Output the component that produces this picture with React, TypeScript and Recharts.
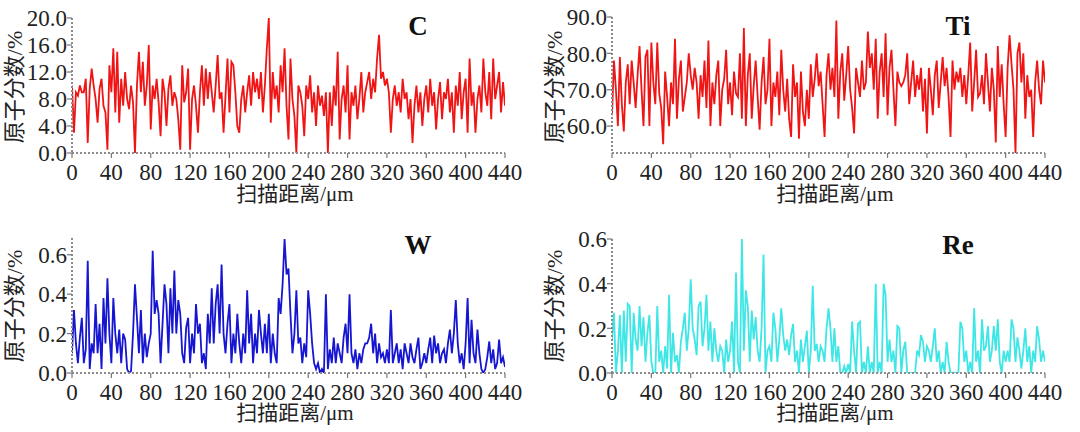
import { Line, LineChart, XAxis, YAxis } from 'recharts';

// scan step along the line, μm
const STEP_UM = 2;
const X_TICKS = [0, 40, 80, 120, 160, 200, 240, 280, 320, 360, 400, 440];

const CARBON = [
  10, 3, 9, 8.5, 10, 9, 9, 11, 1.5, 9.5,
  12.5, 10, 8, 4.5, 9.5, 11, 7, 6, 0.5, 13,
  9, 15.5, 6, 15, 4.5, 11, 7, 12, 8, 6.5,
  10, 7.5, 0, 10, 15, 9, 13.5, 7, 10, 16,
  3.5, 10, 8, 11, 7.5, 2.5, 11, 9, 4, 9.5,
  11.5, 7, 9, 8, 5, 0.5, 13, 7.5, 9, 12.5,
  0.5, 8, 10, 7, 3, 9, 13, 7, 12.5, 8,
  12, 9, 6, 10, 14.5, 8, 9, 3, 8.5, 14,
  6, 13.5, 13, 9, 4, 3, 8, 10, 6, 9,
  11.5, 7, 12, 9, 11, 8, 12, 6, 10, 15.5,
  20, 4.5, 12, 8, 10, 6, 13, 9, 15.5, 7,
  2, 14, 8, 5.5, 0, 10, 9, 7, 2.5, 10,
  8, 11.5, 6, 9, 4, 10, 7, 8.5, 5.5, 9,
  0, 9, 4, 10, 7, 15, 2, 8, 10, 6,
  13, 2, 9, 7, 10, 5, 8, 12, 6, 9,
  10.5, 12, 8, 11, 9, 14, 17.5, 11, 12, 10,
  11, 9, 3, 8, 10, 7, 9, 6, 11, 8,
  9, 5, 8, 1.5, 7, 10, 6, 9, 4, 8,
  10, 6, 11, 7, 9, 3.5, 8, 10.5, 5, 9,
  8, 11, 6, 9, 3, 10, 7, 12, 5, 9,
  11, 3, 14, 7, 9, 3, 8, 10, 6, 14,
  9, 7, 12, 5, 14, 8, 10, 12, 6, 10.5,
  7,
];

const TITANIUM = [
  63, 78, 70, 60, 79, 66, 58.5, 72, 77, 66,
  78, 72, 65, 74, 82, 70, 60, 79, 81, 60,
  83, 72, 66, 83, 69, 65, 55, 75, 68, 60,
  72, 66, 84, 62, 73, 78, 64, 68, 72, 80,
  74, 70, 76, 72, 62, 74, 68, 78, 65, 83.5,
  60, 72, 66, 74, 78, 60, 70, 73, 81, 66,
  72, 63, 75, 69, 68, 80, 62, 87, 60, 74,
  80, 62, 71, 78, 68, 59, 72, 79, 66, 70,
  84, 60, 72, 68, 75, 63, 81, 70, 64, 73,
  62, 57, 77, 68, 72, 56.5, 75, 64, 60, 70,
  62, 77, 68, 73, 80, 71, 75, 66, 57, 74,
  80, 70, 76, 68, 89, 62, 75, 80, 67, 74,
  82, 70, 65, 58, 76, 72, 68, 78, 70, 72,
  86, 76, 80, 70, 84, 62, 75, 80, 68, 85.5,
  63, 76, 81, 70, 60, 75, 72, 71, 72, 74,
  80, 66, 72, 78, 68, 74, 70, 76, 64, 73,
  58, 76, 70, 63, 74, 78, 65, 72, 79, 71,
  76, 68, 57, 78, 70, 75, 72, 76, 68, 74,
  66, 74, 83, 64, 72, 81, 68, 69, 74, 66,
  80, 72, 64, 76, 70, 55.5, 82, 68, 77, 66,
  57, 76, 85, 77, 70, 52.5, 80, 83, 72, 80,
  62, 74, 68, 70, 57, 72, 78, 70, 66, 78,
  72,
];

const TUNGSTEN = [
  0.1, 0.32, 0.15, 0.05, 0.18, 0.28, 0.05, 0.12, 0.57, 0.02,
  0.15, 0.1, 0.35, 0.1, 0.25, 0.02, 0.38, 0.15, 0.48, 0.2,
  0.05, 0.38, 0.2, 0.1, 0.22, 0.05, 0.2, 0.17, 0.02, 0.0,
  0.01, 0.2, 0.45, 0.28, 0.1, 0.32, 0.05, 0.2, 0.08, 0.15,
  0.2, 0.62, 0.3, 0.37, 0.3, 0.05, 0.25, 0.45, 0.35, 0.1,
  0.43, 0.2, 0.52, 0.2, 0.37, 0.3, 0.1, 0.05, 0.23, 0.28,
  0.05, 0.2, 0.1, 0.35, 0.2, 0.25, 0.05, 0.1, 0.02, 0.3,
  0.15, 0.43, 0.15, 0.35, 0.45, 0.2, 0.55, 0.2, 0.1, 0.25,
  0.35, 0.05, 0.2, 0.1, 0.3, 0.15, 0.05, 0.2, 0.1, 0.42,
  0.15, 0.3, 0.05, 0.2, 0.1, 0.32, 0.2, 0.1, 0.25, 0.1,
  0.3, 0.05, 0.2, 0.1, 0.05, 0.38, 0.3, 0.45, 0.68, 0.5,
  0.53, 0.3, 0.1, 0.2, 0.42, 0.15, 0.18, 0.05, 0.15, 0.08,
  0.42, 0.3, 0.15, 0.05, 0.02, 0.05, 0.0, 0.02, 0.0, 0.4,
  0.02, 0.12, 0.05, 0.18, 0.05, 0.15, 0.1, 0.05, 0.18, 0.25,
  0.1, 0.4, 0.1, 0.05, 0.12, 0.02, 0.1, 0.05, 0.12, 0.15,
  0.15, 0.18, 0.25, 0.1, 0.2, 0.05, 0.15, 0.08, 0.1, 0.05,
  0.12, 0.05, 0.32, 0.05, 0.1, 0.15, 0.05, 0.12, 0.02, 0.15,
  0.1, 0.05, 0.15, 0.08, 0.05, 0.12, 0.18, 0.02, 0.05, 0.1,
  0.05, 0.12, 0.18, 0.05, 0.19, 0.1, 0.15, 0.05, 0.1, 0.12,
  0.05, 0.15, 0.22, 0.1, 0.2, 0.37, 0.15, 0.05, 0.1, 0.02,
  0.15, 0.38, 0.05, 0.27, 0.1, 0.05, 0.22, 0.1, 0.02, 0.0,
  0.02, 0.08, 0.16, 0.05, 0.12, 0.02, 0.05, 0.17, 0.05, 0.08,
  0.03,
];

const RHENIUM = [
  0.15, 0.27, 0.0, 0.1, 0.26, 0.0, 0.28, 0.05, 0.31, 0.3,
  0.0, 0.27, 0.15, 0.1, 0.3, 0.12, 0.25, 0.05, 0.18, 0.26,
  0.05, 0.0, 0.0, 0.3, 0.05, 0.1, 0.0, 0.12, 0.02, 0.35,
  0.0, 0.18, 0.05, 0.08, 0.0, 0.14, 0.2, 0.27, 0.1, 0.2,
  0.42, 0.2, 0.15, 0.08, 0.3, 0.32, 0.12, 0.2, 0.35, 0.1,
  0.23, 0.05, 0.2, 0.1, 0.05, 0.12, 0.1, 0.0, 0.15, 0.05,
  0.1, 0.23, 0.0, 0.45, 0.05, 0.0, 0.6, 0.1, 0.37, 0.3,
  0.05, 0.28, 0.15, 0.25, 0.1, 0.05, 0.2, 0.53, 0.0, 0.1,
  0.12, 0.05, 0.27, 0.2, 0.05, 0.15, 0.29, 0.17, 0.1, 0.15,
  0.08, 0.17, 0.22, 0.05, 0.1, 0.0, 0.15, 0.05, 0.12, 0.19,
  0.0, 0.1, 0.39, 0.1, 0.13, 0.05, 0.12, 0.1, 0.05, 0.2,
  0.29, 0.2, 0.05, 0.2, 0.05, 0.12, 0.0, 0.0, 0.03, 0.0,
  0.04, 0.0, 0.23, 0.1, 0.0, 0.22, 0.23, 0.0, 0.05, 0.0,
  0.12, 0.0, 0.05, 0.0, 0.4, 0.0, 0.05, 0.0, 0.4, 0.35,
  0.05, 0.15, 0.05, 0.1, 0.0, 0.21, 0.2, 0.0, 0.1, 0.14,
  0.0, 0.0, 0.0, 0.0, 0.0, 0.1, 0.08, 0.17, 0.14, 0.05,
  0.12, 0.1, 0.05, 0.12, 0.2, 0.05, 0.1, 0.0, 0.05, 0.0,
  0.14, 0.05, 0.0, 0.0, 0.0, 0.0, 0.0, 0.23, 0.2, 0.05,
  0.1, 0.0, 0.05, 0.0, 0.29, 0.05, 0.1, 0.0, 0.24, 0.1,
  0.12, 0.21, 0.05, 0.1, 0.21, 0.1, 0.24, 0.05, 0.0, 0.1,
  0.05, 0.1, 0.05, 0.24, 0.2, 0.05, 0.16, 0.1, 0.02, 0.1,
  0.2, 0.05, 0.12, 0.0, 0.1, 0.05, 0.21, 0.15, 0.05, 0.1,
  0.05,
];

const rows = CARBON.map((c, i) => ({
  dist: i * STEP_UM,
  C: c,
  Ti: TITANIUM[i],
  W: TUNGSTEN[i],
  Re: RHENIUM[i],
}));

const SERIF = 'Liberation Serif, Noto Sans CJK SC, serif';
const AXIS_LINE = { stroke: '#8c8c8c', strokeWidth: 2, strokeDasharray: '2 2' };
const TICK_LINE = { stroke: '#777', strokeWidth: 1.2 };

function XTick({ x, y, payload }) {
  return (
    <text x={x} y={y} dy="0.78em" textAnchor="middle" fontFamily={SERIF} fontSize={23} fill="#222">
      {payload.value}
    </text>
  );
}

function YTick({ x, y, payload }) {
  return (
    <text x={x} y={y} dy="0.36em" textAnchor="end" fontFamily={SERIF} fontSize={23} fill="#222">
      {Number(payload.value).toFixed(1)}
    </text>
  );
}

const labelBase = {
  position: 'absolute' as const,
  whiteSpace: 'nowrap' as const,
  lineHeight: 1,
  color: '#222',
  fontFamily: SERIF,
};

function Panel({ left, top, dataKey, color, domain, ticks, margin, title, titleY }) {
  return (
    <div style={{ position: 'absolute', left, top, width: 540, height: 216 }}>
      <LineChart width={540} height={216} data={rows} margin={margin}>
        <XAxis
          dataKey="dist"
          type="number"
          domain={[0, 440]}
          ticks={X_TICKS}
          interval={0}
          height={30}
          tick={XTick}
          tickSize={5}
          tickMargin={4}
          axisLine={AXIS_LINE}
          tickLine={TICK_LINE}
          allowDataOverflow
        />
        <YAxis
          type="number"
          domain={domain}
          ticks={ticks}
          interval={0}
          width={62}
          tick={YTick}
          tickSize={5}
          tickMargin={0}
          axisLine={AXIS_LINE}
          tickLine={TICK_LINE}
          allowDataOverflow
        />
        <Line
          type="linear"
          dataKey={dataKey}
          stroke={color}
          strokeWidth={1.8}
          dot={false}
          isAnimationActive={false}
        />
      </LineChart>
      <div
        style={{
          ...labelBase,
          left: 418,
          top: titleY,
          transform: 'translate(-50%, -50%)',
          fontSize: 27,
          fontWeight: 'bold',
          color: '#111',
        }}
      >
        {title}
      </div>
      <div
        style={{
          ...labelBase,
          left: 295,
          top: titleY + 168,
          transform: 'translate(-50%, -50%)',
          fontSize: 21,
        }}
      >
        扫描距离/μm
      </div>
      <div
        style={{
          ...labelBase,
          left: 15,
          top: titleY + 61,
          transform: 'translate(-50%, -50%) rotate(-90deg)',
          fontSize: 22,
        }}
      >
        原子分数/%
      </div>
    </div>
  );
}

export default function App() {
  return (
    <div
      style={{
        position: 'absolute',
        left: 0,
        top: 0,
        width: 1080,
        height: 432,
        background: '#fff',
        overflow: 'hidden',
      }}
    >
      <Panel
        left={0}
        top={0}
        dataKey="C"
        color="#f01414"
        domain={[0, 20]}
        ticks={[0, 4, 8, 12, 16, 20]}
        margin={{ top: 18, right: 35, bottom: 33, left: 10 }}
        title="C"
        titleY={26}
      />
      <Panel
        left={540}
        top={0}
        dataKey="Ti"
        color="#f01414"
        domain={[52.6, 90]}
        ticks={[60, 70, 80, 90]}
        margin={{ top: 17, right: 35, bottom: 33, left: 10 }}
        title="Ti"
        titleY={26}
      />
      <Panel
        left={0}
        top={216}
        dataKey="W"
        color="#1616d2"
        domain={[0, 0.685]}
        ticks={[0, 0.2, 0.4, 0.6]}
        margin={{ top: 22, right: 35, bottom: 29, left: 10 }}
        title="W"
        titleY={29}
      />
      <Panel
        left={540}
        top={216}
        dataKey="Re"
        color="#3ee6e6"
        domain={[0, 0.6]}
        ticks={[0, 0.2, 0.4, 0.6]}
        margin={{ top: 23, right: 35, bottom: 29, left: 10 }}
        title="Re"
        titleY={29}
      />
    </div>
  );
}
